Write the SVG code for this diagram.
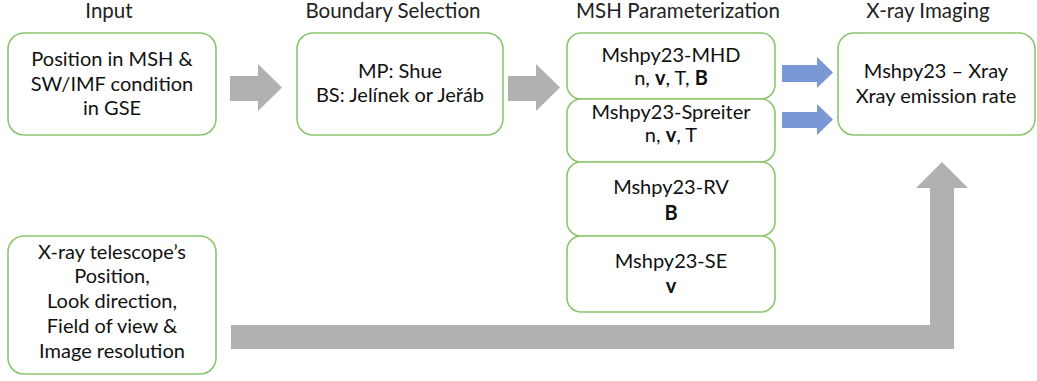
<svg xmlns="http://www.w3.org/2000/svg" width="1037" height="381" viewBox="0 0 1037 381">
<style>
.box{fill:#fff;stroke:#8cc66c;stroke-width:1.6}
.t{font-family:Lato,"Liberation Sans",sans-serif;font-size:20px;fill:#111;text-anchor:middle}
.h{font-family:Lato,"Liberation Sans",sans-serif;font-size:20.5px;fill:#222;text-anchor:middle}
.b{font-weight:bold}
.gray{fill:#b1b1b1}
.blue{fill:#7b98d6}
</style>
<rect width="1037" height="381" fill="#fff"/>
<g id="titles">
<text class="h" x="109" y="18">Input</text>
<text class="h" x="393" y="18">Boundary Selection</text>
<text class="h" x="678" y="18">MSH Parameterization</text>
<text class="h" x="928" y="18">X-ray Imaging</text>
</g>
<g id="connectors">
<polygon class="gray" points="230,76 258,76 258,64 282,87.5 258,111 258,101 230,101"/>
<polygon class="gray" points="508,76 536,76 536,64 560,87.5 536,111 536,101 508,101"/>
<polygon class="blue" points="782,65 817,65 817,57 833,72.5 817,88 817,82 782,82"/>
<polygon class="blue" points="782,112 817,112 817,104 833,119.5 817,135 817,128 782,128"/>
<polygon class="gray" points="231,325 930,325 930,188 916,188 942,162 968,188 954,188 954,349 231,349"/>
</g>
<g id="input">
<rect class="box" x="8" y="33" width="208" height="102" rx="16"/>
<text class="t" x="112" y="66">Position in MSH &amp;</text>
<text class="t" x="112" y="91">SW/IMF condition</text>
<text class="t" x="112" y="115">in GSE</text>
</g>
<g id="boundary">
<rect class="box" x="297" y="33" width="206" height="102" rx="16"/>
<text class="t" x="400" y="78">MP: Shue</text>
<text class="t" x="400" y="102">BS: Jelínek or Jeřáb</text>
</g>
<g id="mhd">
<rect class="box" x="567" y="33" width="208" height="66" rx="14"/>
<text class="t" x="671" y="62">Mshpy23-MHD</text>
<text class="t" x="671" y="85">n, <tspan class="b">v</tspan>, T, <tspan class="b">B</tspan></text>
</g>
<g id="spreiter">
<rect class="box" x="567" y="99" width="208" height="63" rx="14"/>
<text class="t" x="671" y="119">Mshpy23-Spreiter</text>
<text class="t" x="671" y="142">n, <tspan class="b">v</tspan>, T</text>
</g>
<g id="rv">
<rect class="box" x="567" y="162" width="208" height="74" rx="14"/>
<text class="t" x="671" y="194">Mshpy23-RV</text>
<text class="t b" x="671" y="220">B</text>
</g>
<g id="se">
<rect class="box" x="567" y="236" width="208" height="76" rx="14"/>
<text class="t" x="671" y="268">Mshpy23-SE</text>
<text class="t b" x="671" y="293">v</text>
</g>
<g id="xray">
<rect class="box" x="838" y="33" width="197" height="102" rx="16"/>
<text class="t" x="936" y="78">Mshpy23 – Xray</text>
<text class="t" x="936" y="103">Xray emission rate</text>
</g>
<g id="telescope">
<rect class="box" x="8" y="236" width="208" height="138" rx="16"/>
<text class="t" x="112" y="259">X-ray telescope’s</text>
<text class="t" x="112" y="283">Position,</text>
<text class="t" x="112" y="308">Look direction,</text>
<text class="t" x="112" y="333">Field of view &amp;</text>
<text class="t" x="112" y="358">Image resolution</text>
</g>
</svg>
